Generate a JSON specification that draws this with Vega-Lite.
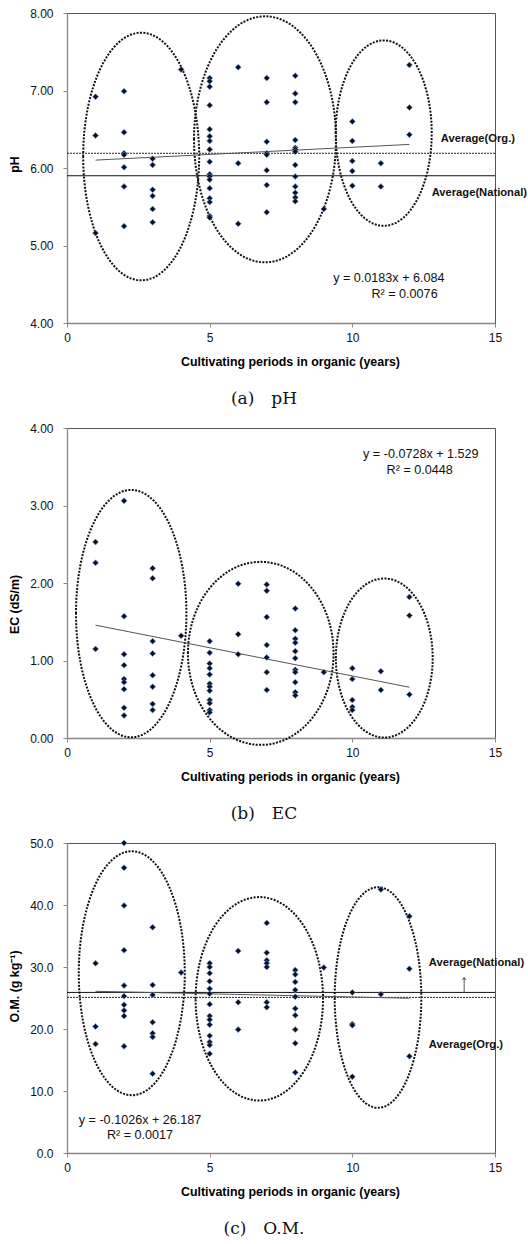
{
  "$schema": "https://vega.github.io/schema/vega-lite/v6.json",
  "padding": {"left": 8, "top": 6, "right": 0, "bottom": 0},
  "spacing": 13,
  "config": {
    "view": {"stroke": "#555", "strokeWidth": 1},
    "font": "Liberation Sans",
    "axis": {"grid": false, "domainColor": "#888", "domainWidth": 1.3, "tickColor": "#888", "tickSize": 4, "labelFont": "Liberation Sans", "labelFontSize": 12, "labelColor": "#111", "labelFlush": false, "titleFont": "Liberation Sans", "titleFontSize": 12.4, "titleFontWeight": "bold", "titleColor": "#000"},
    "axisX": {"labelPadding": 5, "titlePadding": 12, "titleX": 223},
    "axisY": {"labelPadding": 10, "titlePadding": 8},
    "title": {"font": "DejaVu Serif", "fontSize": 17, "fontWeight": "normal", "color": "#111", "anchor": "middle", "frame": "group", "offset": 24, "dx": -17}
  },
  "datasets": {
    "ph": [
      {"x": 1, "y": 6.92}, {"x": 1, "y": 6.42}, {"x": 1, "y": 5.16},
      {"x": 2, "y": 6.99}, {"x": 2, "y": 6.46}, {"x": 2, "y": 6.19}, {"x": 2, "y": 6.17}, {"x": 2, "y": 6.01}, {"x": 2, "y": 5.76}, {"x": 2, "y": 5.25},
      {"x": 3, "y": 6.12}, {"x": 3, "y": 6.04}, {"x": 3, "y": 5.72}, {"x": 3, "y": 5.64}, {"x": 3, "y": 5.47}, {"x": 3, "y": 5.30},
      {"x": 4, "y": 7.27},
      {"x": 5, "y": 7.16}, {"x": 5, "y": 7.12}, {"x": 5, "y": 7.05}, {"x": 5, "y": 6.81}, {"x": 5, "y": 6.50}, {"x": 5, "y": 6.41}, {"x": 5, "y": 6.35}, {"x": 5, "y": 6.24}, {"x": 5, "y": 6.08}, {"x": 5, "y": 5.92}, {"x": 5, "y": 5.89}, {"x": 5, "y": 5.85}, {"x": 5, "y": 5.74}, {"x": 5, "y": 5.61}, {"x": 5, "y": 5.56}, {"x": 5, "y": 5.38}, {"x": 5, "y": 5.36},
      {"x": 6, "y": 7.30}, {"x": 6, "y": 6.06}, {"x": 6, "y": 5.28},
      {"x": 7, "y": 7.16}, {"x": 7, "y": 6.85}, {"x": 7, "y": 6.34}, {"x": 7, "y": 6.19}, {"x": 7, "y": 6.17}, {"x": 7, "y": 5.97}, {"x": 7, "y": 5.78}, {"x": 7, "y": 5.43},
      {"x": 8, "y": 7.19}, {"x": 8, "y": 6.96}, {"x": 8, "y": 6.85}, {"x": 8, "y": 6.36}, {"x": 8, "y": 6.26}, {"x": 8, "y": 6.24}, {"x": 8, "y": 6.21}, {"x": 8, "y": 6.04}, {"x": 8, "y": 5.89}, {"x": 8, "y": 5.76}, {"x": 8, "y": 5.68}, {"x": 8, "y": 5.62}, {"x": 8, "y": 5.57},
      {"x": 9, "y": 5.47},
      {"x": 10, "y": 6.60}, {"x": 10, "y": 6.35}, {"x": 10, "y": 6.09}, {"x": 10, "y": 5.96}, {"x": 10, "y": 5.77},
      {"x": 11, "y": 6.06}, {"x": 11, "y": 5.76},
      {"x": 12, "y": 7.33}, {"x": 12, "y": 6.78}, {"x": 12, "y": 6.43}
    ],
    "ec": [
      {"x": 1, "y": 2.53}, {"x": 1, "y": 2.26}, {"x": 1, "y": 1.15},
      {"x": 2, "y": 3.06}, {"x": 2, "y": 1.57}, {"x": 2, "y": 1.08}, {"x": 2, "y": 0.94}, {"x": 2, "y": 0.76}, {"x": 2, "y": 0.72}, {"x": 2, "y": 0.63}, {"x": 2, "y": 0.39}, {"x": 2, "y": 0.29},
      {"x": 3, "y": 2.19}, {"x": 3, "y": 2.06}, {"x": 3, "y": 1.25}, {"x": 3, "y": 1.09}, {"x": 3, "y": 0.81}, {"x": 3, "y": 0.66}, {"x": 3, "y": 0.44}, {"x": 3, "y": 0.36},
      {"x": 4, "y": 1.32},
      {"x": 5, "y": 1.25}, {"x": 5, "y": 1.10}, {"x": 5, "y": 0.96}, {"x": 5, "y": 0.90}, {"x": 5, "y": 0.82}, {"x": 5, "y": 0.70}, {"x": 5, "y": 0.66}, {"x": 5, "y": 0.61}, {"x": 5, "y": 0.49}, {"x": 5, "y": 0.45}, {"x": 5, "y": 0.36}, {"x": 5, "y": 0.33},
      {"x": 6, "y": 1.99}, {"x": 6, "y": 1.34}, {"x": 6, "y": 1.08},
      {"x": 7, "y": 1.98}, {"x": 7, "y": 1.90}, {"x": 7, "y": 1.56}, {"x": 7, "y": 1.20}, {"x": 7, "y": 1.04}, {"x": 7, "y": 0.85}, {"x": 7, "y": 0.62},
      {"x": 8, "y": 1.67}, {"x": 8, "y": 1.39}, {"x": 8, "y": 1.28}, {"x": 8, "y": 1.23}, {"x": 8, "y": 1.12}, {"x": 8, "y": 1.03}, {"x": 8, "y": 0.88}, {"x": 8, "y": 0.85}, {"x": 8, "y": 0.72}, {"x": 8, "y": 0.59}, {"x": 8, "y": 0.55},
      {"x": 9, "y": 0.85},
      {"x": 10, "y": 0.90}, {"x": 10, "y": 0.76}, {"x": 10, "y": 0.49}, {"x": 10, "y": 0.40}, {"x": 10, "y": 0.36},
      {"x": 11, "y": 0.86}, {"x": 11, "y": 0.62},
      {"x": 12, "y": 1.82}, {"x": 12, "y": 1.58}, {"x": 12, "y": 0.56}
    ],
    "om": [
      {"x": 1, "y": 30.6}, {"x": 1, "y": 20.4}, {"x": 1, "y": 17.6},
      {"x": 2, "y": 50.0}, {"x": 2, "y": 46.0}, {"x": 2, "y": 39.9}, {"x": 2, "y": 32.7}, {"x": 2, "y": 27.0}, {"x": 2, "y": 25.3}, {"x": 2, "y": 23.9}, {"x": 2, "y": 23.0}, {"x": 2, "y": 22.1}, {"x": 2, "y": 17.2},
      {"x": 3, "y": 36.4}, {"x": 3, "y": 27.1}, {"x": 3, "y": 25.5}, {"x": 3, "y": 21.1}, {"x": 3, "y": 19.3}, {"x": 3, "y": 18.7}, {"x": 3, "y": 12.8},
      {"x": 4, "y": 29.1},
      {"x": 5, "y": 30.6}, {"x": 5, "y": 30.0}, {"x": 5, "y": 29.0}, {"x": 5, "y": 27.7}, {"x": 5, "y": 26.5}, {"x": 5, "y": 25.7}, {"x": 5, "y": 24.0}, {"x": 5, "y": 22.1}, {"x": 5, "y": 21.5}, {"x": 5, "y": 20.7}, {"x": 5, "y": 18.9}, {"x": 5, "y": 17.9}, {"x": 5, "y": 17.4}, {"x": 5, "y": 16.0},
      {"x": 6, "y": 32.6}, {"x": 6, "y": 24.3}, {"x": 6, "y": 19.9},
      {"x": 7, "y": 37.1}, {"x": 7, "y": 32.3}, {"x": 7, "y": 31.1}, {"x": 7, "y": 30.6}, {"x": 7, "y": 30.0}, {"x": 7, "y": 24.3}, {"x": 7, "y": 23.5},
      {"x": 8, "y": 29.5}, {"x": 8, "y": 28.8}, {"x": 8, "y": 27.6}, {"x": 8, "y": 26.3}, {"x": 8, "y": 25.2}, {"x": 8, "y": 23.3}, {"x": 8, "y": 22.2}, {"x": 8, "y": 19.9}, {"x": 8, "y": 17.7}, {"x": 8, "y": 13.0},
      {"x": 9, "y": 29.9},
      {"x": 10, "y": 25.9}, {"x": 10, "y": 20.8}, {"x": 10, "y": 20.6}, {"x": 10, "y": 12.3},
      {"x": 11, "y": 42.5}, {"x": 11, "y": 25.6},
      {"x": 12, "y": 38.2}, {"x": 12, "y": 29.7}, {"x": 12, "y": 15.6}
    ]
  },
  "vconcat": [
    {
      "width": 428, "height": 310,
      "title": {"text": "(a)\u2003pH", "orient": "bottom"},
      "layer": [
        {"data": {"values": [{"x": 2.6, "y": 6.148}]}, "mark": {"type": "point", "shape": "M-58,0A58,123.8 0 1,1 58,0A58,123.8 0 1,1 -58,0Z", "size": 4, "filled": false, "opacity": 1, "stroke": "#111", "strokeWidth": 2, "strokeDash": [2, 1.4]}, "encoding": {"x": {"field": "x", "type": "quantitative"}, "y": {"field": "y", "type": "quantitative"}}},
        {"data": {"values": [{"x": 6.94, "y": 6.37}]}, "mark": {"type": "point", "shape": "M-71,0A71,123 0 1,1 71,0A71,123 0 1,1 -71,0Z", "size": 4, "filled": false, "opacity": 1, "stroke": "#111", "strokeWidth": 2, "strokeDash": [2, 1.4]}, "encoding": {"x": {"field": "x", "type": "quantitative"}, "y": {"field": "y", "type": "quantitative"}}},
        {"data": {"values": [{"x": 11.1, "y": 6.45}]}, "mark": {"type": "point", "shape": "M-48,0A48,92.7 0 1,1 48,0A48,92.7 0 1,1 -48,0Z", "size": 4, "filled": false, "opacity": 1, "stroke": "#111", "strokeWidth": 2, "strokeDash": [2, 1.4]}, "encoding": {"x": {"field": "x", "type": "quantitative"}, "y": {"field": "y", "type": "quantitative"}}},
        {"data": {"values": [{"y": 6.19}]}, "mark": {"type": "rule", "color": "#222", "strokeWidth": 1, "strokeDash": [2, 1]}, "encoding": {"y": {"field": "y", "type": "quantitative"}}},
        {"data": {"values": [{"y": 5.90}]}, "mark": {"type": "rule", "color": "#111", "strokeWidth": 1}, "encoding": {"y": {"field": "y", "type": "quantitative"}}},
        {"data": {"values": [{"x": 1, "y": 6.102}, {"x": 12, "y": 6.304}]}, "mark": {"type": "line", "color": "#555", "strokeWidth": 1}, "encoding": {"x": {"field": "x", "type": "quantitative"}, "y": {"field": "y", "type": "quantitative"}}},
        {"data": {"name": "ph"}, "mark": {"type": "point", "shape": "diamond", "size": 36, "filled": true, "opacity": 1, "fill": "#0b1020", "stroke": "#6f9fd8", "strokeWidth": 0.6},
          "encoding": {
            "x": {"field": "x", "type": "quantitative", "scale": {"domain": [0, 15], "nice": false, "zero": false}, "axis": {"values": [0, 5, 10, 15], "format": "d", "title": "Cultivating periods in organic (years)"}},
            "y": {"field": "y", "type": "quantitative", "scale": {"domain": [4, 8], "nice": false, "zero": false}, "axis": {"values": [4, 5, 6, 7, 8], "format": ".2f", "title": "pH", "titleY": 151}}
          }},
        {"data": {"values": [{"x": 13.1, "y": 6.37, "t": "Average(Org.)"}, {"x": 12.78, "y": 5.68, "t": "Average(National)"}]}, "mark": {"type": "text", "align": "left", "baseline": "middle", "font": "Liberation Sans", "fontSize": 11.2, "fontWeight": "bold", "color": "#111"}, "encoding": {"x": {"field": "x", "type": "quantitative"}, "y": {"field": "y", "type": "quantitative"}, "text": {"field": "t"}}},
        {"data": {"values": [{"x": 11.28, "y": 4.58, "t": "y = 0.0183x + 6.084"}, {"x": 11.83, "y": 4.37, "t": "R² = 0.0076"}]}, "mark": {"type": "text", "align": "center", "baseline": "middle", "font": "Liberation Sans", "fontSize": 12.6, "color": "#111"}, "encoding": {"x": {"field": "x", "type": "quantitative"}, "y": {"field": "y", "type": "quantitative"}, "text": {"field": "t"}}}
      ]
    },
    {
      "width": 428, "height": 310,
      "title": {"text": "(b)\u2003EC", "orient": "bottom"},
      "layer": [
        {"data": {"values": [{"x": 2.25, "y": 1.605}]}, "mark": {"type": "point", "shape": "M-55.2,0A55.2,123.7 0 1,1 55.2,0A55.2,123.7 0 1,1 -55.2,0Z", "size": 4, "filled": false, "opacity": 1, "stroke": "#111", "strokeWidth": 2, "strokeDash": [2, 1.4]}, "encoding": {"x": {"field": "x", "type": "quantitative"}, "y": {"field": "y", "type": "quantitative"}}},
        {"data": {"values": [{"x": 6.79, "y": 1.092}]}, "mark": {"type": "point", "shape": "M-72.8,0A72.8,91.5 0 1,1 72.8,0A72.8,91.5 0 1,1 -72.8,0Z", "size": 4, "filled": false, "opacity": 1, "stroke": "#111", "strokeWidth": 2, "strokeDash": [2, 1.4]}, "encoding": {"x": {"field": "x", "type": "quantitative"}, "y": {"field": "y", "type": "quantitative"}}},
        {"data": {"values": [{"x": 11.12, "y": 1.032}]}, "mark": {"type": "point", "shape": "M-48.4,0A48.4,79.5 0 1,1 48.4,0A48.4,79.5 0 1,1 -48.4,0Z", "size": 4, "filled": false, "opacity": 1, "stroke": "#111", "strokeWidth": 2, "strokeDash": [2, 1.4]}, "encoding": {"x": {"field": "x", "type": "quantitative"}, "y": {"field": "y", "type": "quantitative"}}},
        {"data": {"values": [{"x": 1, "y": 1.456}, {"x": 12, "y": 0.655}]}, "mark": {"type": "line", "color": "#555", "strokeWidth": 1}, "encoding": {"x": {"field": "x", "type": "quantitative"}, "y": {"field": "y", "type": "quantitative"}}},
        {"data": {"name": "ec"}, "mark": {"type": "point", "shape": "diamond", "size": 36, "filled": true, "opacity": 1, "fill": "#0b1020", "stroke": "#6f9fd8", "strokeWidth": 0.6},
          "encoding": {
            "x": {"field": "x", "type": "quantitative", "scale": {"domain": [0, 15], "nice": false, "zero": false}, "axis": {"values": [0, 5, 10, 15], "format": "d", "title": "Cultivating periods in organic (years)"}},
            "y": {"field": "y", "type": "quantitative", "scale": {"domain": [0, 4], "nice": false, "zero": false}, "axis": {"values": [0, 1, 2, 3, 4], "format": ".2f", "title": "EC (dS/m)", "titleY": 176}}
          }},
        {"data": {"values": [{"x": 12.4, "y": 3.66, "t": "y = -0.0728x + 1.529"}, {"x": 12.36, "y": 3.46, "t": "R² = 0.0448"}]}, "mark": {"type": "text", "align": "center", "baseline": "middle", "font": "Liberation Sans", "fontSize": 12.6, "color": "#111"}, "encoding": {"x": {"field": "x", "type": "quantitative"}, "y": {"field": "y", "type": "quantitative"}, "text": {"field": "t"}}}
      ]
    },
    {
      "width": 428, "height": 310,
      "title": {"text": "(c)\u2003O.M.", "orient": "bottom"},
      "layer": [
        {"data": {"values": [{"x": 2.27, "y": 29.0}]}, "mark": {"type": "point", "shape": "M-53,0A53,122 0 1,1 53,0A53,122 0 1,1 -53,0Z", "size": 4, "filled": false, "opacity": 1, "stroke": "#111", "strokeWidth": 2, "strokeDash": [2, 1.4]}, "encoding": {"x": {"field": "x", "type": "quantitative"}, "y": {"field": "y", "type": "quantitative"}}},
        {"data": {"values": [{"x": 6.74, "y": 24.87}]}, "mark": {"type": "point", "shape": "M-63.7,0A63.7,101.7 0 1,1 63.7,0A63.7,101.7 0 1,1 -63.7,0Z", "size": 4, "filled": false, "opacity": 1, "stroke": "#111", "strokeWidth": 2, "strokeDash": [2, 1.4]}, "encoding": {"x": {"field": "x", "type": "quantitative"}, "y": {"field": "y", "type": "quantitative"}}},
        {"data": {"values": [{"x": 10.9, "y": 25.08}]}, "mark": {"type": "point", "shape": "M-43.3,0A43.3,110.3 0 1,1 43.3,0A43.3,110.3 0 1,1 -43.3,0Z", "size": 4, "filled": false, "opacity": 1, "stroke": "#111", "strokeWidth": 2, "strokeDash": [2, 1.4]}, "encoding": {"x": {"field": "x", "type": "quantitative"}, "y": {"field": "y", "type": "quantitative"}}},
        {"data": {"values": [{"y": 25.1}]}, "mark": {"type": "rule", "color": "#222", "strokeWidth": 1, "strokeDash": [2, 1]}, "encoding": {"y": {"field": "y", "type": "quantitative"}}},
        {"data": {"values": [{"y": 25.9}]}, "mark": {"type": "rule", "color": "#111", "strokeWidth": 1}, "encoding": {"y": {"field": "y", "type": "quantitative"}}},
        {"data": {"values": [{"x": 1, "y": 26.08}, {"x": 12, "y": 24.96}]}, "mark": {"type": "line", "color": "#555", "strokeWidth": 1}, "encoding": {"x": {"field": "x", "type": "quantitative"}, "y": {"field": "y", "type": "quantitative"}}},
        {"data": {"values": [{"x": 13.92, "y": 25.9, "y2": 28.3}]}, "mark": {"type": "rule", "color": "#555", "strokeWidth": 1}, "encoding": {"x": {"field": "x", "type": "quantitative"}, "y": {"field": "y", "type": "quantitative"}, "y2": {"field": "y2"}}},
        {"data": {"values": [{"x": 13.92, "y": 28.3}]}, "mark": {"type": "point", "shape": "M-1,1.4L0,0L1,1.4", "size": 12, "filled": false, "opacity": 1, "stroke": "#555", "strokeWidth": 1}, "encoding": {"x": {"field": "x", "type": "quantitative"}, "y": {"field": "y", "type": "quantitative"}}},
        {"data": {"name": "om"}, "mark": {"type": "point", "shape": "diamond", "size": 36, "filled": true, "opacity": 1, "fill": "#0b1020", "stroke": "#6f9fd8", "strokeWidth": 0.6},
          "encoding": {
            "x": {"field": "x", "type": "quantitative", "scale": {"domain": [0, 15], "nice": false, "zero": false}, "axis": {"values": [0, 5, 10, 15], "format": "d", "title": "Cultivating periods in organic (years)"}},
            "y": {"field": "y", "type": "quantitative", "scale": {"domain": [0, 50], "nice": false, "zero": false}, "axis": {"values": [0, 10, 20, 30, 40, 50], "format": ".1f", "title": "O.M. (g kg⁻¹)", "titleY": 143}}
          }},
        {"data": {"values": [{"x": 12.68, "y": 30.6, "t": "Average(National)"}, {"x": 12.68, "y": 17.5, "t": "Average(Org.)"}]}, "mark": {"type": "text", "align": "left", "baseline": "middle", "font": "Liberation Sans", "fontSize": 11.2, "fontWeight": "bold", "color": "#111"}, "encoding": {"x": {"field": "x", "type": "quantitative"}, "y": {"field": "y", "type": "quantitative"}, "text": {"field": "t"}}},
        {"data": {"values": [{"x": 2.56, "y": 5.37, "t": "y = -0.1026x + 26.187"}, {"x": 2.56, "y": 2.95, "t": "R² = 0.0017"}]}, "mark": {"type": "text", "align": "center", "baseline": "middle", "font": "Liberation Sans", "fontSize": 12.6, "color": "#111"}, "encoding": {"x": {"field": "x", "type": "quantitative"}, "y": {"field": "y", "type": "quantitative"}, "text": {"field": "t"}}}
      ]
    }
  ]
}
